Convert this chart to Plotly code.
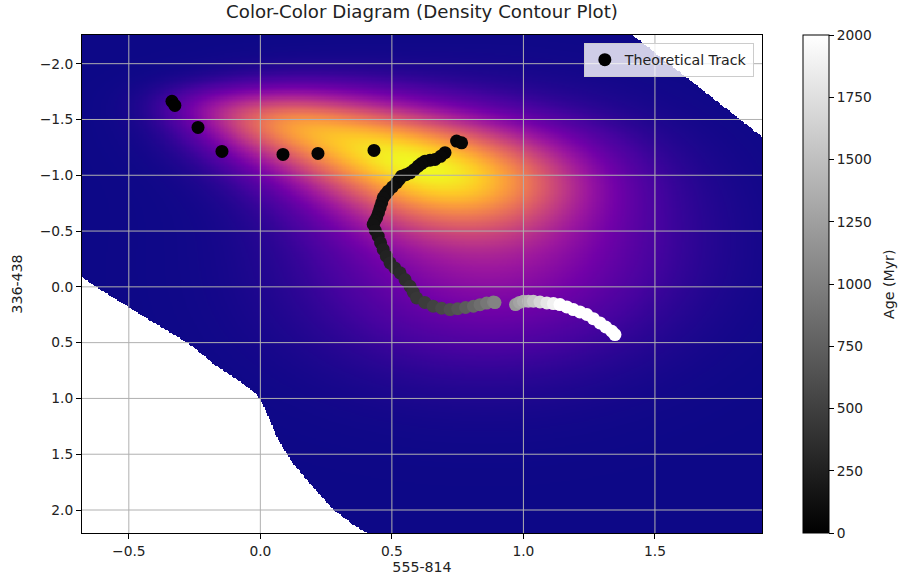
import numpy as np
import plotly.graph_objects as go

# ---------------- Theoretical track ----------------
track_x = [-0.336, -0.325, -0.237, -0.146, 0.086, 0.219, 0.432, 0.746, 0.765,
           0.702, 0.685, 0.664, 0.645, 0.626, 0.612, 0.600, 0.585, 0.569, 0.553,
           0.537, 0.528, 0.518, 0.502, 0.486, 0.476, 0.467, 0.461, 0.455, 0.449,
           0.442, 0.435, 0.429, 0.437, 0.448, 0.457, 0.467, 0.479, 0.493, 0.511,
           0.531, 0.550, 0.569, 0.581, 0.594, 0.625, 0.657, 0.689, 0.721, 0.750,
           0.780, 0.810, 0.835, 0.860, 0.886, 0.892,
           0.970, 0.985, 1.000, 1.019, 1.038, 1.063, 1.089, 1.114, 1.139, 1.165,
           1.190, 1.215, 1.241, 1.266, 1.291, 1.313, 1.336, 1.348]
track_y = [-1.663, -1.626, -1.429, -1.214, -1.187, -1.196, -1.223, -1.306, -1.291,
           -1.202, -1.170, -1.142, -1.135, -1.126, -1.105, -1.082, -1.050, -1.022, -1.005,
           -0.992, -0.962, -0.933, -0.895, -0.857, -0.828, -0.798, -0.752, -0.709, -0.664,
           -0.619, -0.589, -0.559, -0.505, -0.454, -0.395, -0.335, -0.275, -0.215, -0.170,
           -0.126, -0.065, -0.005, 0.047, 0.099, 0.140, 0.174, 0.192, 0.204, 0.196,
           0.185, 0.174, 0.160, 0.145, 0.135, 0.141,
           0.159, 0.140, 0.129, 0.129, 0.129, 0.136, 0.144, 0.150, 0.159, 0.180,
           0.204, 0.225, 0.248, 0.285, 0.323, 0.360, 0.398, 0.428]
track_age = [5, 8, 12, 16, 22, 28, 35, 40, 44,
             50, 54, 58, 62, 66, 70, 74, 78, 82, 86,
             90, 94, 98, 102, 106, 110, 115, 120, 125, 130,
             136, 142, 148, 160, 180, 210, 240, 265, 290, 310,
             330, 355, 380, 405, 430, 470, 520, 565, 610, 660,
             720, 790, 860, 930, 1000, 1030,
             1200, 1280, 1350, 1450, 1550, 1680, 1800, 1900, 2000, 2100,
             2200, 2300, 2400, 2500, 2600, 2700, 2800, 2900]

# ---------------- Density model (smooth blobs) ----------------
blob_cx = [0.78, 0.55, 0.30, 0.04, -0.20, 0.90, 0.80]
blob_cy = [-0.92, -1.15, -1.34, -1.50, -1.62, -0.45, 0.10]
blob_s_major = [0.30, 0.30, 0.28, 0.20, 0.15, 0.42, 0.45]
blob_s_minor = [0.33, 0.30, 0.26, 0.19, 0.13, 0.62, 0.55]
blob_angle_deg = [40.0, 40.0, 40.0, 25.0, 25.0, 0.0, 0.0]
blob_weight = [0.60, 0.45, 0.60, 0.42, 0.12, 0.35, 0.08]

# Edges of the blank (no density) regions
blank_lo_y = [-0.09, 0.024, 0.189, 0.338, 0.517, 0.712, 0.847, 0.966, 1.026, 1.130,
              1.340, 1.549, 1.728, 1.997, 2.132, 2.206, 2.30]
blank_lo_x = [-0.68, -0.61, -0.496, -0.394, -0.268, -0.166, -0.078, -0.014, 0.005, 0.024,
              0.062, 0.113, 0.176, 0.277, 0.353, 0.404, 0.46]
blank_hi_x = [1.417, 1.907, 2.0]
blank_hi_y = [-2.254, -1.348, -1.18]

# Axes
x_range = [-0.678, 1.907]
y_range = [2.206, -2.257]
x_ticks = [-0.5, 0.0, 0.5, 1.0, 1.5]
y_ticks = [-2.0, -1.5, -1.0, -0.5, 0.0, 0.5, 1.0, 1.5, 2.0]
cbar_ticks = [0, 250, 500, 750, 1000, 1250, 1500, 1750, 2000]

# ---------------- Build density grid ----------------
gx = np.linspace(x_range[0], x_range[1], 520)
gy = np.linspace(y_range[1], y_range[0], 420)
X, Y = np.meshgrid(gx, gy)
Z = np.zeros_like(X)
for cx, cy, sa, sb, ang, w in zip(blob_cx, blob_cy, blob_s_major, blob_s_minor,
                                  blob_angle_deg, blob_weight):
    t = np.deg2rad(ang)
    dx, dy = X - cx, Y - cy
    u = dx * np.cos(t) + dy * np.sin(t)
    v = -dx * np.sin(t) + dy * np.cos(t)
    Z += w * np.exp(-0.5 * (u ** 2 / sa ** 2 + v ** 2 / sb ** 2))
Z = Z / Z.max()

xb = np.interp(Y, blank_lo_y, blank_lo_x, left=-10.0)
yb = np.interp(X, blank_hi_x, blank_hi_y, left=-10.0)
Z[(X < xb) | (Y < yb)] = np.nan

TXT = "#222222"
fig = go.Figure()
fig.add_trace(go.Heatmap(x=gx, y=gy, z=Z, colorscale="Plasma", zmin=0, zmax=1,
                         showscale=False, hoverinfo="skip"))

fig.add_trace(go.Scatter(
    x=track_x, y=track_y, mode="markers", showlegend=False,
    marker=dict(size=13, color=track_age, cmin=0, cmax=2000,
                colorscale=[[0, "black"], [1, "white"]],
                line=dict(width=0),
                colorbar=dict(
                    x=1.060, xanchor="left", xpad=0, ypad=0,
                    y=0.5, yanchor="middle", len=1, lenmode="fraction",
                    thickness=26, outlinewidth=1, outlinecolor="black",
                    ticks="outside", ticklen=5, tickcolor="black",
                    tickvals=cbar_ticks, tickfont=dict(size=13.8, color=TXT),
                )),
))
# legend entry
fig.add_trace(go.Scatter(x=[None], y=[None], mode="markers", name="Theoretical Track",
                         marker=dict(size=13, color="black")))

shapes = []
for v in x_ticks:
    shapes.append(dict(type="line", xref="x", yref="paper", x0=v, x1=v, y0=0, y1=1,
                       line=dict(color="#b0b0b0", width=1), layer="above"))
for v in y_ticks:
    shapes.append(dict(type="line", xref="paper", yref="y", x0=0, x1=1, y0=v, y1=v,
                       line=dict(color="#b0b0b0", width=1), layer="above"))

fig.update_layout(
    width=898, height=580,
    margin=dict(l=82, r=136, t=35, b=47, autoexpand=False),
    paper_bgcolor="white", plot_bgcolor="white",
    font=dict(family="DejaVu Sans", size=13.8, color=TXT),
    title=dict(text="Color-Color Diagram (Density Contour Plot)", x=(82 + 762) / 2 / 898,
               xanchor="center", y=1 - 12 / 580, yanchor="middle",
               font=dict(size=18.2, color=TXT)),
    shapes=shapes,
    annotations=[dict(text="Age (Myr)", textangle=-90, xref="paper", yref="paper",
                      x=(889 - 82) / 680, y=0.5, xanchor="center", yanchor="middle",
                      showarrow=False, font=dict(size=14.2, color=TXT))],
    legend=dict(x=0.988, xanchor="right", y=0.984, yanchor="top",
                bgcolor="rgba(255,255,255,0.8)", bordercolor="#cccccc", borderwidth=1,
                font=dict(size=14.2, color=TXT)),
    xaxis=dict(range=x_range, showgrid=False, zeroline=False, showline=True, mirror=True,
               linecolor="black", linewidth=1, ticks="outside", ticklen=5, tickcolor="black",
               tickvals=x_ticks, tickformat=".1f", tickfont=dict(size=13.8), automargin=False,
               title=dict(text="555-814", standoff=4, font=dict(size=14.2))),
    yaxis=dict(range=y_range, autorange=False, showgrid=False, zeroline=False, showline=True,
               mirror=True, linecolor="black", linewidth=1, ticks="outside", ticklen=5,
               tickcolor="black", tickvals=y_ticks, tickformat=".1f", tickfont=dict(size=13.8),
               automargin=False,
               title=dict(text="336-438", standoff=13, font=dict(size=14.2))),
)

fig.write_html("out.html")
